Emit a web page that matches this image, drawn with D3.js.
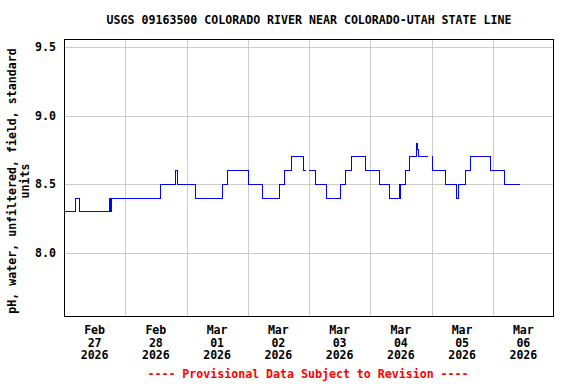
<!DOCTYPE html>
<html>
<head>
<meta charset="utf-8">
<script src="https://cdn.jsdelivr.net/npm/d3@7"></script>
<style>
  body { margin: 0; background: #fff; }
  text { font-family: "DejaVu Sans Mono", "Liberation Mono", monospace; font-weight: bold; }
</style>
</head>
<body>
<svg id="chart"></svg>
<script>
const width = 576, height = 384;
const margin = { top: 40, bottom: 68, left: 64, right: 22 };

// Chart values
const title = "USGS 09163500 COLORADO RIVER NEAR COLORADO-UTAH STATE LINE";
const yLabelLines = ["pH, water, unfiltered, field, standard", "units"];
const footnote = "---- Provisional Data Subject to Revision ----";
const yTicks = [8.0, 8.5, 9.0, 9.5];
const dayLabels = [["Feb", "27", "2026"], ["Feb", "28", "2026"], ["Mar", "01", "2026"], ["Mar", "02", "2026"],
                   ["Mar", "03", "2026"], ["Mar", "04", "2026"], ["Mar", "05", "2026"], ["Mar", "06", "2026"]];

// hours after Feb 27 2026 00:00, pH value at that time (null = gap in record)
const hours = [0, 4.5, 6.0, 17.75, 18.25, 18.75, 37.75, 43.75, 44.5, 51.5,
               62.0, 64.25, 72.25, 77.75, 84.5, 86.5, 89.25, 93.75, 94.75, 95.0,
               96.0, 98.5, 103.0, 108.25, 110.25, 112.5, 118.0, 123.75, 127.5, 131.5,
               131.75, 132.0, 133.75, 135.5, 138.25, 138.5, 138.75, 142.75, 143.0, 144.0,
               144.25, 149.5, 153.75, 154.5, 157.25, 159.25, 167.25, 172.75, 178.75];
const phValues = [8.3, 8.4, 8.3, 8.4, 8.3, 8.4, 8.5, 8.6, 8.5, 8.4,
                  8.5, 8.6, 8.5, 8.4, 8.5, 8.6, 8.7, 8.6, 8.6, null,
                  8.6, 8.5, 8.4, 8.5, 8.6, 8.7, 8.6, 8.5, 8.4, 8.5,
                  8.4, 8.5, 8.6, 8.7, 8.8, 8.75, 8.7, 8.7, null, 8.7,
                  8.6, 8.5, 8.4, 8.5, 8.6, 8.7, 8.6, 8.5, 8.5];

const start = Date.UTC(2026, 1, 27);
const data = hours.map((h, i) => ({ t: new Date(start + h * 3600e3), v: phValues[i] }));

const svg = d3.select("#chart")
    .attr("width", width)
    .attr("height", height);

const xScale = d3.scaleUtc()
    .domain([new Date(start), new Date(Date.UTC(2026, 2, 7))])
    .range([margin.left, width - margin.right]);

const yScale = d3.scaleLinear()
    .domain([7.541, 9.551])
    .range([height - margin.bottom, margin.top]);

// Gridlines
const days = d3.utcDay.range(new Date(Date.UTC(2026, 1, 28)), new Date(Date.UTC(2026, 2, 7)));
svg.append("g")
    .selectAll("line")
    .data(days)
    .enter().append("line")
    .attr("x1", d => Math.round(xScale(d)) + 0.5)
    .attr("x2", d => Math.round(xScale(d)) + 0.5)
    .attr("y1", margin.top)
    .attr("y2", height - margin.bottom)
    .attr("stroke", "#cccccc");

svg.append("g")
    .selectAll("line")
    .data(yTicks)
    .enter().append("line")
    .attr("x1", margin.left)
    .attr("x2", width - margin.right)
    .attr("y1", d => Math.round(yScale(d)) + 0.5)
    .attr("y2", d => Math.round(yScale(d)) + 0.5)
    .attr("stroke", "#cccccc");

// Y tick labels
svg.append("g")
    .selectAll("text")
    .data(yTicks)
    .enter().append("text")
    .attr("x", 56)
    .attr("y", d => yScale(d) + 4)
    .attr("text-anchor", "end")
    .style("font-size", "11.6px")
    .text(d => d3.format(".1f")(d));

// X labels at noon of each day
const noons = dayLabels.map((d, i) => new Date(start + (i * 24 + 12) * 3600e3));
const xl = svg.append("g")
    .selectAll("text")
    .data(dayLabels)
    .enter().append("text")
    .attr("text-anchor", "middle")
    .style("font-size", "11.6px");
xl.each(function(d, i) {
    const t = d3.select(this);
    d.forEach((s, j) => {
        t.append("tspan")
            .attr("x", xScale(noons[i]))
            .attr("y", 334 + j * 12.7)
            .text(s);
    });
});

// Data line
const line = d3.line()
    .defined(d => d.v != null)
    .x(d => xScale(d.t))
    .y(d => yScale(d.v))
    .curve(d3.curveStepAfter);

svg.append("path")
    .datum(data)
    .attr("d", line)
    .attr("fill", "none")
    .attr("stroke", "#0000ff")
    .attr("stroke-width", 1)
    .attr("shape-rendering", "crispEdges");

// Plot frame
svg.append("rect")
    .attr("x", margin.left + 0.5)
    .attr("y", margin.top - 0.5)
    .attr("width", width - margin.left - margin.right - 1)
    .attr("height", height - margin.top - margin.bottom + 1)
    .attr("fill", "none")
    .attr("stroke", "#000");

// Title
svg.append("text")
    .attr("x", 309)
    .attr("y", 24)
    .attr("text-anchor", "middle")
    .style("font-size", "11.6px")
    .text(title);

// Y axis label
const yl = svg.append("text")
    .attr("transform", "translate(0,181) rotate(-90)")
    .attr("text-anchor", "middle")
    .style("font-size", "11.6px");
yLabelLines.forEach((s, j) => {
    yl.append("tspan")
        .attr("x", 0)
        .attr("y", 16 + j * 13)
        .text(s);
});

// Footnote
svg.append("text")
    .attr("x", 308)
    .attr("y", 378)
    .attr("text-anchor", "middle")
    .attr("fill", "#ff0000")
    .style("font-size", "11.6px")
    .text(footnote);
</script>
</body>
</html>
